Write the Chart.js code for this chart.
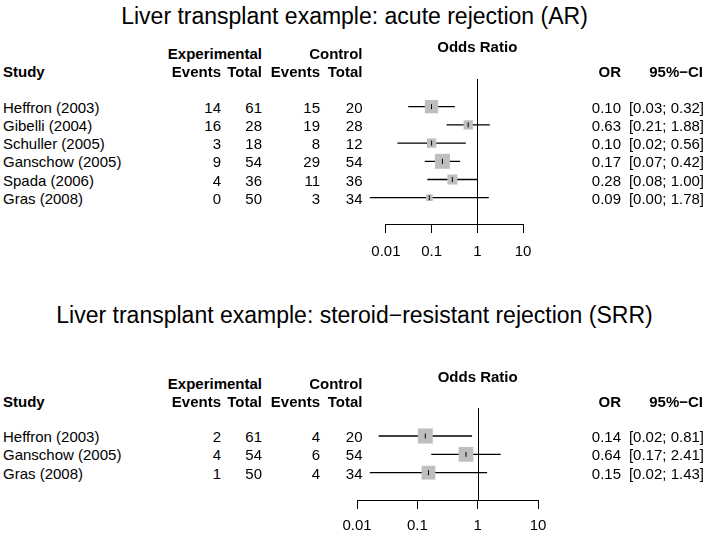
<!DOCTYPE html>
<html>
<head>
<meta charset="utf-8">
<title>Liver transplant example</title>
<script src="https://cdn.jsdelivr.net/npm/chart.js@4.4.0/dist/chart.umd.min.js"></script>
<style>
  html, body { margin: 0; padding: 0; background: #fff; }
  #page { position: relative; width: 709px; height: 536px; overflow: hidden;
          font-family: 'Liberation Sans', Arial, Helvetica, sans-serif; color: #000; }
  .t { position: absolute; white-space: nowrap; line-height: 1; font-size: 15px; }
  .b { font-weight: bold; }
  .title { font-size: 23px; }
  canvas { position: absolute; }
</style>
</head>
<body>
<div id="page">
  <canvas id="arChart"></canvas>
  <canvas id="srrChart"></canvas>
</div>
<script>
/* ---------- data: acute rejection (AR) ---------- */
const arStudies    = ["Heffron (2003)", "Gibelli (2004)", "Schuller (2005)", "Ganschow (2005)", "Spada (2006)", "Gras (2008)"];
const arExpEvents  = [14, 16, 3, 9, 4, 0];
const arExpTotal   = [61, 28, 18, 54, 36, 50];
const arCtrlEvents = [15, 19, 8, 29, 11, 3];
const arCtrlTotal  = [20, 28, 12, 54, 36, 34];
const arOR         = [0.0993, 0.6316, 0.1000, 0.1724, 0.2841, 0.0891];
const arLower      = [0.0307, 0.2122, 0.0178, 0.0706, 0.0807, 0.00445];
const arUpper      = [0.3215, 1.8797, 0.5615, 0.4213, 1.0000, 1.783];
const arWeight     = [24.5, 12.0, 12.0, 31.2, 13.9, 6.2];

/* ---------- data: steroid-resistant rejection (SRR) ---------- */
const srrStudies    = ["Heffron (2003)", "Ganschow (2005)", "Gras (2008)"];
const srrExpEvents  = [2, 4, 1];
const srrExpTotal   = [61, 54, 50];
const srrCtrlEvents = [4, 6, 4];
const srrCtrlTotal  = [20, 54, 34];
const srrOR         = [0.1356, 0.6400, 0.1531];
const srrLower      = [0.0228, 0.1700, 0.0163];
const srrUpper      = [0.808, 2.41, 1.434];
const srrWeight     = [35.5, 34.5, 30.0];

const orTicks = [0.01, 0.1, 1, 10];

/* ---------- helpers ---------- */
const FONT = "'Liberation Sans', Arial, Helvetica, sans-serif";
const page = document.getElementById("page");
const COL = { study: 3, expEv: 221, expN: 262, ctrlEv: 320, ctrlN: 362.5, or: 621, ci: 704 };

function put(text, x, y, align, cls) {
  const el = document.createElement("div");
  el.className = "t " + (cls || "");
  el.textContent = text;
  el.style.left = x + "px";
  el.style.top = y + "px";
  const dx = align === "right" ? "-100%" : align === "center" ? "-50%" : "0";
  el.style.transform = "translate(" + dx + ", -50%)";
  page.appendChild(el);
}

// reference line at OR = 1 and the axis line from 0.01 to 10
const refLines = {
  id: "refLines",
  beforeDatasetsDraw(chart) {
    const { ctx, chartArea, scales } = chart;
    const x1 = Math.round(scales.x.getPixelForValue(1)) + 0.5;
    const yb = Math.round(chartArea.bottom) + 0.5;
    ctx.save();
    ctx.strokeStyle = "#000";
    ctx.lineWidth = 1;
    ctx.beginPath();
    ctx.moveTo(x1, chartArea.top);
    ctx.lineTo(x1, yb);
    ctx.moveTo(scales.x.getPixelForValue(orTicks[0]), yb);
    ctx.lineTo(scales.x.getPixelForValue(orTicks[orTicks.length - 1]), yb);
    ctx.stroke();
    ctx.restore();
  }
};

function build(cv, c, p) {
  cv.width = c.w;
  cv.height = c.h;
  cv.style.left = c.x + "px";
  cv.style.top = c.y + "px";

  const maxW = Math.max(...p.w);
  const points = p.or.map((v, i) => ({ x: v, y: i }));
  const datasets = p.or.map((_, i) => ({
    type: "line",
    data: [{ x: p.lo[i], y: i }, { x: p.hi[i], y: i }],
    borderColor: "#000",
    borderWidth: 1.3,
    pointRadius: 0,
    order: 3
  }));
  datasets.push({
    type: "scatter",
    data: points,
    pointStyle: "rect",
    pointRadius: ctx => 15 * Math.sqrt(p.w[ctx.dataIndex] / maxW) / Math.SQRT2,
    backgroundColor: "#bebebe",
    pointBorderWidth: 0,
    borderWidth: 0,
    order: 2
  });
  datasets.push({
    type: "scatter",
    data: points,
    pointStyle: "line",
    rotation: 90,
    pointRadius: 2.5,
    pointBorderColor: "#000",
    pointBorderWidth: 1,
    order: 1
  });

  return new Chart(cv, {
    type: "scatter",
    data: { datasets },
    options: {
      responsive: false,
      maintainAspectRatio: false,
      animation: false,
      events: [],
      layout: { padding: { left: c.pl, right: 25, top: c.pt, bottom: 0 } },
      plugins: { legend: { display: false }, tooltip: { enabled: false } },
      scales: {
        x: {
          type: "logarithmic",
          min: p.xMin,
          max: 10,
          afterBuildTicks: s => { s.ticks = orTicks.map(v => ({ value: v })); },
          ticks: { callback: v => String(v), color: "#000", font: { family: FONT, size: 15 },
                   padding: p.tickPad, autoSkip: false, maxRotation: 0 },
          grid: { display: true, drawOnChartArea: false, drawTicks: true, tickLength: 9,
                  color: "#000", lineWidth: 1 },
          border: { display: false }
        },
        y: { type: "linear", reverse: true, min: p.yMin, max: p.yMax, display: false }
      }
    },
    plugins: [refLines]
  });
}

// build once, then correct the canvas box so the plot area lands on p.area (page coords)
function forest(p) {
  const cv = document.getElementById(p.id);
  const c = { x: p.area.left - 30, y: p.area.top - 20, pl: 30, pt: 20,
              w: p.area.right - p.area.left + 60, h: p.area.bottom - p.area.top + 100 };
  let chart = build(cv, c, p);
  const a = chart.chartArea;
  c.pl += p.area.left - (c.x + a.left);
  c.pt += p.area.top - (c.y + a.top);
  c.w += p.area.right - (c.x + a.right) + (p.area.left - (c.x + a.left));
  c.h += p.area.bottom - (c.y + a.bottom) + (p.area.top - (c.y + a.top));
  chart.destroy();
  chart = build(cv, c, p);
  return { chart, c };
}

function panel(p) {
  const { chart, c } = forest(p);
  const rowY = i => c.y + chart.scales.y.getPixelForValue(i);
  const xOne = c.x + chart.scales.x.getPixelForValue(1);

  put(p.title, 354.5, p.titleY, "center", "title");
  put("Experimental", COL.expN, p.groupY, "right", "b");
  put("Control", COL.ctrlN, p.groupY, "right", "b");
  put("Odds Ratio", xOne, p.oddsY, "center", "b");
  put("Study", COL.study, p.headY, "left", "b");
  put("Events", COL.expEv, p.headY, "right", "b");
  put("Total", COL.expN, p.headY, "right", "b");
  put("Events", COL.ctrlEv, p.headY, "right", "b");
  put("Total", COL.ctrlN, p.headY, "right", "b");
  put("OR", COL.or, p.headY, "right", "b");
  put("95%\u2212CI", COL.ci - 1, p.headY, "right", "b");

  p.studies.forEach((s, i) => {
    const y = rowY(i);
    put(s, COL.study, y, "left");
    put(String(p.expEv[i]), COL.expEv, y, "right");
    put(String(p.expN[i]), COL.expN, y, "right");
    put(String(p.ctrlEv[i]), COL.ctrlEv, y, "right");
    put(String(p.ctrlN[i]), COL.ctrlN, y, "right");
    put(p.or[i].toFixed(2), COL.or, y, "right");
    put("[" + p.lo[i].toFixed(2) + "; " + p.hi[i].toFixed(2) + "]", COL.ci, y, "right");
  });
}

panel({
  id: "arChart",
  title: "Liver transplant example: acute rejection (AR)",
  titleY: 15.5, groupY: 53, oddsY: 46, headY: 71,
  area: { left: 354, right: 523, top: 79, bottom: 224 },
  xMin: 0.002, yMin: -1.522, yMax: 6.445, tickPad: 10,
  studies: arStudies, expEv: arExpEvents, expN: arExpTotal, ctrlEv: arCtrlEvents, ctrlN: arCtrlTotal,
  or: arOR, lo: arLower, hi: arUpper, w: arWeight
});

panel({
  id: "srrChart",
  title: "Liver transplant example: steroid\u2212resistant rejection (SRR)",
  titleY: 314.5, groupY: 382.7, oddsY: 376, headY: 400.7,
  area: { left: 357, right: 538, top: 408, bottom: 500 },
  xMin: 0.01, yMin: -1.526, yMax: 3.488, tickPad: 8,
  studies: srrStudies, expEv: srrExpEvents, expN: srrExpTotal, ctrlEv: srrCtrlEvents, ctrlN: srrCtrlTotal,
  or: srrOR, lo: srrLower, hi: srrUpper, w: srrWeight
});
</script>
</body>
</html>
